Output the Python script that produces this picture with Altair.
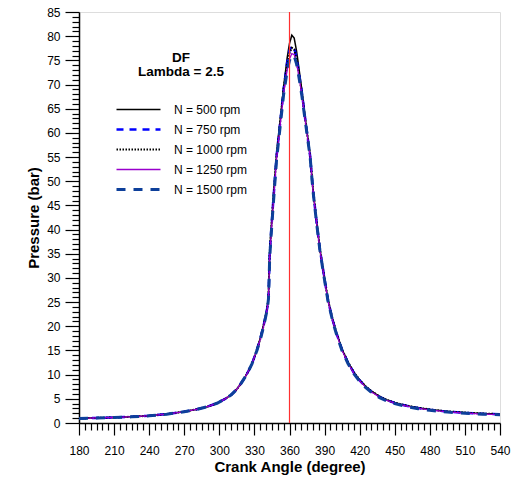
import altair as alt
import pandas as pd

angles = [180, 195, 210, 225, 240, 255, 270, 280, 290, 298, 305, 310, 315, 318, 322, 325,
          328, 332, 335, 338, 340, 341, 342, 342.5, 343, 344, 346, 349, 352, 355, 358, 360,
          362, 364, 366, 368, 370.5, 374, 377.6, 380, 383, 386, 390, 393, 397, 400, 405,
          410, 415, 420, 425, 430, 437, 443, 450, 460, 470, 480, 495, 510, 525, 540]

p500 = [0.97, 1.05, 1.15, 1.3, 1.5, 1.85, 2.35, 2.8, 3.4, 4.1, 5.0, 5.8, 7.0, 8.0, 9.5, 10.8,
        12.3, 15.0, 17.5, 20.5, 22.8, 24.0, 26.5, 30.0, 35.0, 39.0, 46.0, 55.8, 62.5, 69.6, 75.5, 78.5,
        80.2, 79.6, 77.0, 73.5, 69.0, 62.0, 55.5, 48.5, 42.0, 36.0, 29.8, 25.4, 21.3, 18.8, 15.2,
        12.6, 10.5, 8.9, 7.6, 6.6, 5.5, 4.8, 4.2, 3.6, 3.15, 2.8, 2.4, 2.15, 1.95, 1.85]
p750 = [0.97, 1.05, 1.15, 1.3, 1.5, 1.85, 2.35, 2.8, 3.4, 4.1, 5.0, 5.8, 7.0, 8.0, 9.5, 10.8,
        12.3, 15.0, 17.4, 20.3, 22.6, 23.8, 26.0, 29.5, 34.5, 38.5, 45.5, 55.3, 62.0, 69.0, 74.5, 77.0,
        78.0, 77.6, 75.5, 72.5, 68.5, 61.8, 55.3, 48.4, 41.9, 35.9, 29.7, 25.3, 21.2, 18.7, 15.1,
        12.5, 10.4, 8.8, 7.5, 6.5, 5.4, 4.75, 4.15, 3.55, 3.1, 2.75, 2.35, 2.1, 1.9, 1.8]
p1000 = [0.97, 1.05, 1.15, 1.3, 1.5, 1.85, 2.35, 2.8, 3.4, 4.1, 5.0, 5.8, 7.0, 8.0, 9.5, 10.8,
         12.3, 15.0, 17.4, 20.3, 22.6, 23.8, 26.2, 29.8, 34.8, 38.8, 45.8, 55.5, 62.2, 69.2, 74.0, 76.5,
         77.6, 77.3, 75.2, 72.3, 68.4, 61.8, 55.4, 48.5, 42.0, 36.0, 29.8, 25.4, 21.3, 18.8, 15.2,
         12.6, 10.5, 8.9, 7.6, 6.6, 5.5, 4.8, 4.2, 3.6, 3.15, 2.8, 2.4, 2.15, 1.95, 1.85]
p1250 = [0.97, 1.05, 1.15, 1.3, 1.5, 1.85, 2.35, 2.8, 3.4, 4.1, 5.0, 5.8, 7.0, 8.0, 9.5, 10.8,
         12.3, 15.0, 17.3, 20.2, 22.5, 23.6, 25.8, 29.2, 34.0, 38.0, 45.0, 54.8, 61.5, 68.3, 73.0, 75.3,
         76.4, 76.2, 74.5, 71.8, 68.0, 61.6, 55.2, 48.3, 41.8, 35.8, 29.6, 25.2, 21.1, 18.6, 15.0,
         12.4, 10.3, 8.7, 7.45, 6.45, 5.35, 4.7, 4.1, 3.5, 3.05, 2.7, 2.3, 2.05, 1.85, 1.75]
p1500 = [0.95, 1.03, 1.13, 1.28, 1.48, 1.83, 2.33, 2.78, 3.38, 4.08, 4.98, 5.78, 6.98, 7.98, 9.48, 10.78,
         12.28, 14.9, 17.2, 20.1, 22.4, 23.5, 25.6, 29.0, 33.8, 37.8, 44.8, 54.6, 61.3, 68.0, 72.8, 75.0,
         76.0, 75.9, 74.3, 71.6, 67.8, 61.5, 55.1, 48.2, 41.7, 35.7, 29.5, 25.1, 21.0, 18.5, 14.9,
         12.3, 10.2, 8.6, 7.35, 6.35, 5.25, 4.6, 4.0, 3.4, 2.95, 2.62, 2.25, 2.0, 1.82, 1.72]

series_names = ["N = 500 rpm", "N = 750 rpm", "N = 1000 rpm", "N = 1250 rpm", "N = 1500 rpm"]
series_values = [p500, p750, p1000, p1250, p1500]
series_colors = ["#000000", "#0000ff", "#000000", "#9900cc", "#0d3f9a"]
series_dash = [[1, 0], [7, 6], [1.5, 1.5], [1, 0], [9, 8]]
series_width = [1.5, 2.5, 2.0, 1.3, 3.0]

tdc_angle = [360]

rows = []
for i, (name, vals) in enumerate(zip(series_names, series_values)):
    for a, p in zip(angles, vals):
        rows.append({"angle": a, "pressure": p, "series": name, "order": i})
df = pd.DataFrame(rows)

FONT = "Liberation Sans"

x_scale = alt.Scale(domain=[180, 540], nice=False)
y_scale = alt.Scale(domain=[0, 85], nice=False)

x_axis = alt.Axis(
    values=list(range(180, 541, 5)),
    labelExpr="datum.value % 30 === 0 ? datum.label : ''",
    tickSize={"condition": {"test": "datum.value % 30 === 0", "value": 12}, "value": 7},
    labelPadding=10, labelOverlap=False, labelBound=False,
    title="Crank Angle (degree)",
    titleFontSize=15, titleFontWeight="bold", titlePadding=3,
    labelFontSize=12, labelColor="#000", titleColor="#000",
    domainColor="#000", tickColor="#000", domainWidth=1.5, tickWidth=1.2,
    grid=False, labelFont=FONT, titleFont=FONT, labelFlush=False,
)
y_axis = alt.Axis(
    values=list(range(0, 86, 1)),
    labelExpr="datum.value % 5 === 0 ? datum.label : ''",
    tickSize={"condition": {"test": "datum.value % 5 === 0", "value": 14}, "value": 7},
    labelPadding=5, labelOverlap=False,
    title="Pressure (bar)",
    titleFontSize=15, titleFontWeight="bold", titlePadding=5,
    labelFontSize=12, labelColor="#000", titleColor="#000",
    domainColor="#000", tickColor="#000", domainWidth=1.5, tickWidth=1.2,
    grid=False, labelFont=FONT, titleFont=FONT, labelFlush=False,
)

lines = alt.Chart(df).mark_line(clip=True).encode(
    x=alt.X("angle:Q", scale=x_scale, axis=x_axis),
    y=alt.Y("pressure:Q", scale=y_scale, axis=y_axis),
    color=alt.Color("series:N", scale=alt.Scale(domain=series_names, range=series_colors),
                    legend=alt.Legend(
                        title=["DF", "Lambda = 2.5"], orient="none", legendX=36, legendY=39,
                        symbolType="stroke", symbolSize=1936, labelOffset=12,
                        titleFontSize=13.5, titleFontWeight="bold", titleAnchor="middle",
                        titleAlign="center", titleLineHeight=14, titlePadding=24,
                        labelFontSize=12, labelFont=FONT, titleFont=FONT, labelColor="#000",
                        titleColor="#000", clipHeight=14, rowPadding=6, padding=0)),
    strokeDash=alt.StrokeDash("series:N", scale=alt.Scale(domain=series_names, range=series_dash)),
    strokeWidth=alt.StrokeWidth("series:N", scale=alt.Scale(type="ordinal", domain=series_names, range=series_width)),
    order=alt.Order("order:Q"),
)

tdc = alt.Chart(pd.DataFrame({"angle": tdc_angle})).mark_rule().encode(
    x=alt.X("angle:Q", scale=x_scale, axis=x_axis),
    color=alt.value("#ff3030"),
    strokeWidth=alt.value(1.2),
)

chart = alt.layer(lines, tdc).properties(
    width=421, height=411,
    autosize=alt.AutoSizeParams(type="none"),
    padding={"left": 79, "top": 12, "right": 12, "bottom": 58},
).configure_view(stroke="#222", strokeWidth=1.5).configure(background="white")

chart.save("out.html", embed_options={"renderer": "svg", "actions": False})
